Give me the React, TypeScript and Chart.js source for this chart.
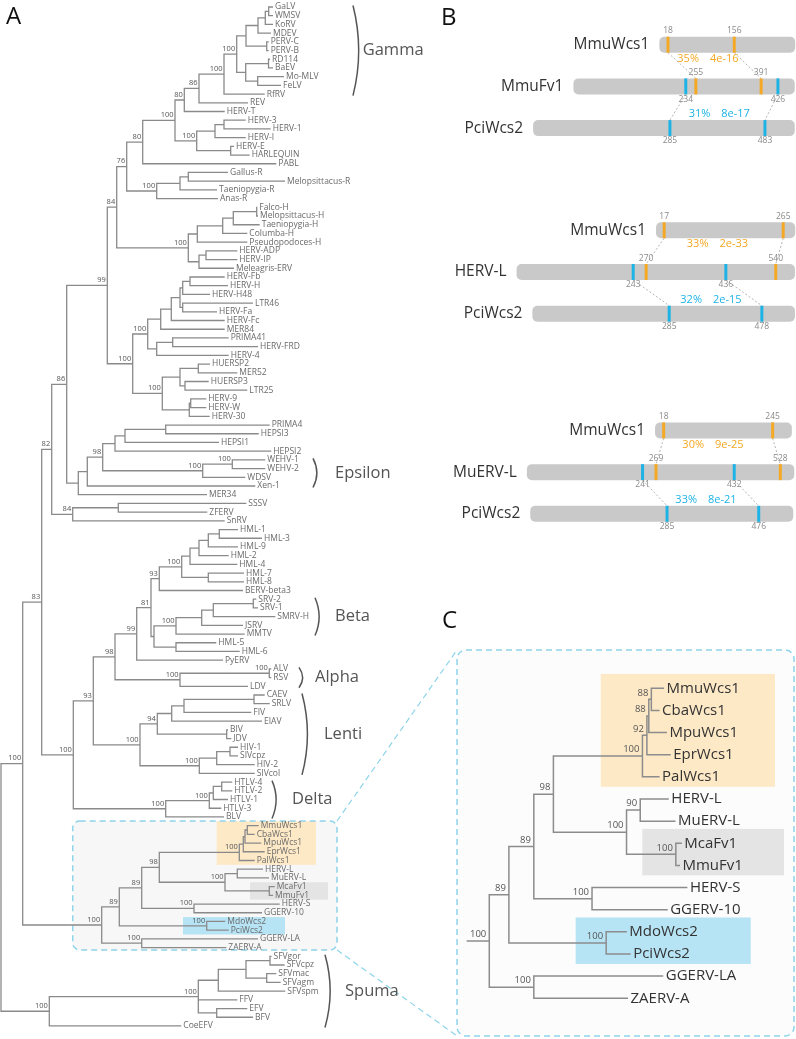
import { useEffect, useRef } from "react";
import { Chart, registerables } from "chart.js";

Chart.register(...registerables);

// ======================= DATA =======================
// Tree clades in Newick form. The number after ':' is the node's distance from the root
// (figure units), the number before ':' is the bootstrap support;
// '*' marks supports that are printed only in the enlarged panel C.
const MLV_GROUP = "((((GaLV:272,WMSV:272):267.7,KoRV:272):264.3,MDEV:270):257,(PERV-C:267.7,PERV-B:267.7):265.7):245";
const RD114_GROUP = "((RD114:269,BaEV:272):267.5,(Mo-MLV:283,FeLV:280):256.7):244.7";
const HERV3_GROUP = "(((HERV-3:244.7,HERV-1:269.7):223,HERV-I:244.7):214,(HERV-E:233,HARLEQUIN:248.7):229.7)100:195.7";
const AVIAN_R = "(((Gallus-R:227,Melopsittacus-R:284):187.3,Taeniopygia-R:216):179,Anas-R:217)100:155.7";
const AVIAN_H = "(((((Falco-H:256.3,Melopsittacus-H:257):255.7,Taeniopygia-H:258.7):232.3,Columba-H:246.3):221.7,Pseudopodoces-H:246.3):196.3,((HERV-ADP:236.3,HERV-IP:236.3):205,Meleagris-ERV:233):198)100:187.3";
const HERVH_GROUP = "((((((HERV-Fb:223.7,HERV-H:227):189,HERV-H48:209):181.7,(LTR46:252,HERV-Fa:216):181.7):179,HERV-Fc:223.7):170.3,MER84:223.7):159.7,((PRIMA41:227.7,HERV-FRD:257):171.7,HERV-4:227.7):155.7)100:146.7";
const HUERSP_GROUP = "(((HUERSP2:209,MER52:236.3):197.3,(HUERSP3:207.7,LTR25:246.3):184):179,((HERV-9:205.3,HERV-W:205.3):189.7,HERV-30:208.7):188.3)100:161.3";
const EPSILON_GROUP = "((((((PRIMA4:268.7,HEPSI3:257.7):164.7,HEPSI1:218):124,HEPSI2:270.3):114,((WEHV-1:264.3,WEHV-2:264.3)100:231.3,WDSV:244.3)100:201.7)98:101.7,Xen-1:254.3):86.3,MER34:206):77.3";
const SSSV_GROUP = "((SSSV:245.3,ZFERV:206.3):117.3,SnRV:223.7)84:71.7";
const HML_GROUP = "(((((HML-1:237,HML-3:261):218.3,HML-9:237):207.3,HML-2:227.7):198,HML-4:236.3):189,(HML-7:243,HML-8:243):207.3)100:180.7";
const BETA_GROUP = "((((SRV-2:255.3,SRV-1:257):252.3,SMRV-H:274.3):212.3,JSRV:242):200.7,MMTV:243.7)100:175";
const ALPHA_GROUP = "((ALV:270.3,RSV:270.3)100:268.3,LDV:247)100:179";
const LENTI_GROUP = "((((CAEV:263.7,SRLV:268.7):253,FIV:250.3):183,EIAV:261):170.7,(BIV:227,JDV:230.3):225.7)94:156.3";
const HIV_GROUP = "(((HIV-1:237,SIVcpz:237):229,HIV-2:253.7):215.7,SIVcol:253.7)100:198.3";
const DELTA_GROUP = "((((HTLV-4:231.3,HTLV-2:231.3):220.7,HTLV-1:227):212.3,HTLV-3:220.3)100:208.3,BLV:223)100:164.7";
const WCS_GROUP = "((((((((MmuWcs1:257.7,CbaWcs1:253.7)88*:246.3,MpuWcs1:260.3)88*:244,EprWcs1:263.7)92*:242.3,PalWcs1:253.7)100:238.3,((HERV-L:262,MuERV-L:268)90*:236.3,(McaFv1:273.7,MmuFv1:272)100*:268.3)100:224)98:158.3,(HERV-S:278.7,GGERV-10:261)100:193)89:140.7,(MdoWcs2:224.3,PciWcs2:227.7)100:205.7)89:118.3,(GGERV-LA:257,ZAERV-A:225.3)100:140.7)100:100.7";
const SPUMA_GROUP = "(((((SFVgor:270.5,SFVcpz:283.7):269,(SFVmac:275.3,SFVagm:279.7):265.7):245,SFVspm:284.3):217.3,FFV:236.3,(EFV:246.3,BFV:252):215.7)100:197.3,CoeEFV:180.3)100:48.3";

const GAMMA_GROUP = `((((((${MLV_GROUP},${RD114_GROUP})100:235.7,RfRV:263.7)100:223,REV:247)86:198,HERV-T:223.7)80:183.3,${HERV3_GROUP})100:174,PABL:275.3)80:141.7`;
const CLADE_84 = `((${GAMMA_GROUP},${AVIAN_R})76:125.7,${AVIAN_H})84:115.7`;
const CLADE_99 = `(${CLADE_84},(${HERVH_GROUP},${HUERSP_GROUP})100:131.7)99:106.3`;
const CLADE_82 = `((${CLADE_99},${EPSILON_GROUP})86:65.7,${SSSV_GROUP})82:50.7`;
const CLADE_81 = `((${HML_GROUP},BERV-beta3:242)93:158.3,(${BETA_GROUP},(HML-5:215.3,HML-6:238.7):175):153)81:150`;
const CLADE_93 = `(((${CLADE_81},PyERV:222)99:135.7,${ALPHA_GROUP})98:114,(${LENTI_GROUP},${HIV_GROUP})100:139)93:92.3`;
const CLADE_83 = `(${CLADE_82},(${CLADE_93},${DELTA_GROUP})100:72.3)83:40.7`;
const TREE_A = `((${CLADE_83},${WCS_GROUP})100:21.7,${SPUMA_GROUP}):0;`;

// Bracketed genera of panel A
const GENUS_NAMES = ["Gamma", "Epsilon", "Beta", "Alpha", "Lenti", "Delta", "Spuma"];
const GENUS_FIRST = ["GaLV", "WEHV-1", "SRV-2", "ALV", "CAEV", "HTLV-4", "SFVgor"];
const GENUS_LAST = ["RfRV", "Xen-1", "MMTV", "LDV", "SIVcol", "BLV", "CoeEFV"];

// Highlighted clades
const HL_FIRST = ["MmuWcs1", "McaFv1", "MdoWcs2"];
const HL_LAST = ["PalWcs1", "MmuFv1", "PciWcs2"];

// Enlarged sub-tree (panel C)
const ZOOM_FIRST = "MmuWcs1";
const ZOOM_LAST = "ZAERV-A";

// Panel B: protein bars (aa lengths) and conserved sites
const B_PROTEINS = ["MmuWcs1", "MmuFv1", "PciWcs2", "MmuWcs1", "HERV-L", "PciWcs2", "MmuWcs1", "MuERV-L", "PciWcs2"];
const B_LENGTHS = [283, 461, 545, 290, 580, 547, 285, 557, 548];
const B_ORANGE_SITES = [[18, 156], [255, 391], [], [17, 265], [270, 540], [], [18, 245], [269, 528], []];
const B_BLUE_SITES = [[], [234, 426], [285, 483], [], [243, 436], [285, 478], [], [241, 432], [285, 476]];
const B_ORANGE_IDENTITY = ["35%", "33%", "30%"];
const B_ORANGE_EVALUE = ["4e-16", "2e-33", "9e-25"];
const B_BLUE_IDENTITY = ["31%", "32%", "33%"];
const B_BLUE_EVALUE = ["8e-17", "2e-15", "8e-21"];

// ======================= LAYOUT / STYLE =======================
const W = 796;
const H = 1039;
const FONT = '"Open Sans", sans-serif';
const ORANGE = "#f5a823";
const BLUE = "#1db3e6";
const HL_COLORS = ["#fde9c6", "#e4e4e4", "#b7e4f5"];
const BOX_BLUE = "#8ed4ea";

// scale anchors: pixel px0 at value v0, ppu pixels per unit
const A_X = { px0: 1, v0: 0, ppu: 1 };
const A_Y = { px0: 7, v0: 0, ppu: 8.709 };
const C_X = { px0: 489.3, v0: 100.7, ppu: 1.113 };
const C_Y = { px0: 688.3, v0: 0, ppu: 22.14 };
const B_X = { px0: 500, v0: 0, ppu: 0.48 };
const B_Y = { px0: 44.7, v0: 0, ppu: 41.7 };

const GENUS_BRACKET_X = [352, 312, 314, 298, 301, 271, 324];
const GENUS_LABEL_X = [361.7, 334, 334, 314, 323, 291, 344];
const HL_A_X = [[215.7, 315], [249, 327], [182, 284]];
const HL_C_X = [[200.8, 357.4], [238.2, 365.5], [178.3, 335.6]];
const A_BOX_X = [71.7, 336];
const A_BOX_PAD = [0.53, 0.28];
const C_BOX_X = [71.7, 374.5];
const C_BOX_Y = [-1.73, 15.7];
const C_ROOT_STUB = 20.3;

const B_SHIFT = [332, 153, 69, 325, 34.5, 67.5, 323, 56, 63];
const B_GROUP_Y = [0, 4.45, 9.25];
const B_STAT_X = [[426, 449.6], [445.8, 432.3], [436.5, 421.9]];
const B_HALF = 8 / 41.7; // half bar thickness in row units
const B_MARK_HALF = 3.1;

// ======================= TREE HELPERS =======================
type TNode = { name: string; support: string; depth: number; children: TNode[]; y: number };

function parseNewick(s: string): TNode {
  let i = 0;
  const read = (): TNode => {
    const n: TNode = { name: "", support: "", depth: 0, children: [], y: 0 };
    if (s[i] === "(") {
      i++;
      n.children.push(read());
      while (s[i] === ",") {
        i++;
        n.children.push(read());
      }
      i++;
    }
    let lab = "";
    while (i < s.length && !":,);".includes(s[i])) lab += s[i++];
    if (s[i] === ":") {
      i++;
      let num = "";
      while (i < s.length && !",);".includes(s[i])) num += s[i++];
      n.depth = parseFloat(num);
    }
    if (n.children.length) n.support = lab;
    else n.name = lab;
    return n;
  };
  return read();
}

function assignRows(n: TNode, counter = { v: 0 }) {
  if (!n.children.length) {
    n.y = counter.v++;
    return;
  }
  n.children.forEach((c) => assignRows(c, counter));
  n.y = (n.children[0].y + n.children[n.children.length - 1].y) / 2;
}

function allNodes(n: TNode): TNode[] {
  return [n, ...n.children.flatMap(allNodes)];
}
function leafNames(n: TNode): string[] {
  return allNodes(n).filter((x) => !x.children.length).map((x) => x.name);
}
function findClade(n: TNode, a: string, b: string): TNode | null {
  for (const c of n.children) {
    const r = findClade(c, a, b);
    if (r) return r;
  }
  const ls = leafNames(n);
  return ls.includes(a) && ls.includes(b) ? n : null;
}

type Pt = { x: number | null; y: number | null };
function treeSegments(n: TNode, out: Pt[]) {
  if (!n.children.length) return;
  const f = n.children[0];
  const l = n.children[n.children.length - 1];
  out.push({ x: f.depth, y: f.y }, { x: n.depth, y: f.y }, { x: n.depth, y: l.y }, { x: l.depth, y: l.y }, { x: null, y: null });
  for (let k = 1; k < n.children.length - 1; k++) {
    const c = n.children[k];
    out.push({ x: n.depth, y: c.y }, { x: c.depth, y: c.y }, { x: null, y: null });
  }
  n.children.forEach((c) => treeSegments(c, out));
}

function scaleRange(m: { px0: number; v0: number; ppu: number }, size: number) {
  return { min: m.v0 - m.px0 / m.ppu, max: m.v0 + (size - m.px0) / m.ppu };
}

function axisCfg(axis: string, m: { px0: number; v0: number; ppu: number }, size: number, reverse: boolean) {
  return {
    type: "linear",
    axis,
    display: false,
    offset: false,
    bounds: "data",
    grace: 0,
    reverse,
    ...scaleRange(m, size),
    grid: { display: false, offset: false },
    ticks: { display: false },
  };
}

function bRow(r: number) {
  return B_GROUP_Y[Math.floor(r / 3)] + (r % 3);
}

// ======================= CHART =======================
function buildConfig() {
  const treeA = parseNewick(TREE_A);
  assignRows(treeA);
  const treeC = findClade(parseNewick(TREE_A), ZOOM_FIRST, ZOOM_LAST) as TNode;
  assignRows(treeC);

  const nodesA = allNodes(treeA);
  const nodesC = allNodes(treeC);
  const rowA = new Map(nodesA.filter((n) => !n.children.length).map((n) => [n.name, n.y]));
  const rowC = new Map(nodesC.filter((n) => !n.children.length).map((n) => [n.name, n.y]));

  const segA: Pt[] = [];
  treeSegments(treeA, segA);
  const segC: Pt[] = [{ x: treeC.depth - C_ROOT_STUB, y: treeC.y }, { x: treeC.depth, y: treeC.y }, { x: null, y: null }];
  treeSegments(treeC, segC);

  // Panel B datasets
  const bars = B_PROTEINS.map((_, r) => ({ x: [B_SHIFT[r], B_SHIFT[r] + B_LENGTHS[r]], y: bRow(r) }));
  const orangeMarks: any[] = [];
  const blueMarks: any[] = [];
  B_PROTEINS.forEach((_, r) => {
    B_ORANGE_SITES[r].forEach((p) => orangeMarks.push({ x: [B_SHIFT[r] + p - B_MARK_HALF, B_SHIFT[r] + p + B_MARK_HALF], y: bRow(r) }));
    B_BLUE_SITES[r].forEach((p) => blueMarks.push({ x: [B_SHIFT[r] + p - B_MARK_HALF, B_SHIFT[r] + p + B_MARK_HALF], y: bRow(r) }));
  });
  const links: Pt[] = [];
  for (let g = 0; g < 3; g++) {
    const r0 = g * 3;
    B_ORANGE_SITES[r0].forEach((p, k) => {
      const q = B_ORANGE_SITES[r0 + 1][k];
      links.push({ x: B_SHIFT[r0] + p, y: bRow(r0) + B_HALF }, { x: B_SHIFT[r0 + 1] + q, y: bRow(r0 + 1) - B_HALF }, { x: null, y: null });
    });
    B_BLUE_SITES[r0 + 1].forEach((p, k) => {
      const q = B_BLUE_SITES[r0 + 2][k];
      links.push({ x: B_SHIFT[r0 + 1] + p, y: bRow(r0 + 1) + B_HALF }, { x: B_SHIFT[r0 + 2] + q, y: bRow(r0 + 2) - B_HALF }, { x: null, y: null });
    });
  }

  const plugin = {
    id: "figureDecor",
    beforeDatasetsDraw(chart: any) {
      const ctx = chart.ctx as CanvasRenderingContext2D;
      const s = chart.scales;
      const P = (id: string, v: number) => s[id].getPixelForValue(v);
      ctx.save();
      // zoom boxes
      const ax1 = P("xA", A_BOX_X[0]);
      const ax2 = P("xA", A_BOX_X[1]);
      const ay1 = P("yA", (rowA.get(ZOOM_FIRST) as number) - A_BOX_PAD[0]);
      const ay2 = P("yA", (rowA.get(ZOOM_LAST) as number) + A_BOX_PAD[1]);
      const cx1 = P("xC", C_BOX_X[0]);
      const cx2 = P("xC", C_BOX_X[1]);
      const cy1 = P("yC", C_BOX_Y[0]);
      const cy2 = P("yC", C_BOX_Y[1]);
      ctx.fillStyle = "#f7f7f7";
      ctx.beginPath();
      ctx.roundRect(ax1, ay1, ax2 - ax1, ay2 - ay1, 7);
      ctx.fill();
      ctx.fillStyle = "#fcfcfc";
      ctx.beginPath();
      ctx.roundRect(cx1, cy1, cx2 - cx1, cy2 - cy1, 9);
      ctx.fill();
      // highlights
      HL_FIRST.forEach((f, k) => {
        ctx.fillStyle = HL_COLORS[k];
        const y1 = P("yA", (rowA.get(f) as number) - 0.5);
        const y2 = P("yA", (rowA.get(HL_LAST[k]) as number) + 0.5);
        const x1 = P("xA", HL_A_X[k][0]);
        const x2 = P("xA", HL_A_X[k][1]);
        ctx.fillRect(x1, y1, x2 - x1, y2 - y1);
        const v1 = P("yC", (rowC.get(f) as number) - 0.65);
        const v2 = P("yC", (rowC.get(HL_LAST[k]) as number) + 0.45);
        const u1 = P("xC", HL_C_X[k][0]);
        const u2 = P("xC", HL_C_X[k][1]);
        ctx.fillRect(u1, v1, u2 - u1, v2 - v1);
      });
      ctx.strokeStyle = BOX_BLUE;
      ctx.lineWidth = 1.5;
      ctx.setLineDash([6, 4]);
      ctx.beginPath();
      ctx.roundRect(ax1, ay1, ax2 - ax1, ay2 - ay1, 7);
      ctx.stroke();
      ctx.beginPath();
      ctx.roundRect(cx1, cy1, cx2 - cx1, cy2 - cy1, 9);
      ctx.stroke();
      ctx.lineWidth = 1.2;
      ctx.beginPath();
      ctx.moveTo(ax2, ay1);
      ctx.lineTo(cx1, cy1);
      ctx.moveTo(ax2, ay2);
      ctx.lineTo(cx1, cy2);
      ctx.stroke();
      ctx.restore();
    },
    afterDatasetsDraw(chart: any) {
      const ctx = chart.ctx as CanvasRenderingContext2D;
      const s = chart.scales;
      const P = (id: string, v: number) => s[id].getPixelForValue(v);
      ctx.save();
      ctx.textBaseline = "middle";
      // ---- Panel A labels
      ctx.font = `8.5px ${FONT}`;
      ctx.fillStyle = "#6a6a6a";
      ctx.textAlign = "left";
      nodesA.filter((n) => !n.children.length).forEach((n) => ctx.fillText(n.name, P("xA", n.depth) + 2, P("yA", n.y)));
      ctx.font = `7.5px ${FONT}`;
      ctx.fillStyle = "#555";
      ctx.textAlign = "right";
      nodesA.filter((n) => n.children.length && n.support && !n.support.endsWith("*")).forEach((n) =>
        ctx.fillText(n.support, P("xA", n.depth) - 1.5, P("yA", n.y) - 5.2)
      );
      // genus brackets
      ctx.strokeStyle = "#555";
      ctx.lineWidth = 1.5;
      ctx.textAlign = "left";
      ctx.font = `16.5px ${FONT}`;
      GENUS_NAMES.forEach((g, k) => {
        const y1 = P("yA", rowA.get(GENUS_FIRST[k]) as number) - 1.5;
        const y2 = P("yA", rowA.get(GENUS_LAST[k]) as number) + 1.5;
        const bx = P("xA", GENUS_BRACKET_X[k]);
        const bulge = 3 + (y2 - y1) * 0.03;
        ctx.beginPath();
        ctx.moveTo(bx, y1);
        ctx.quadraticCurveTo(bx + 2 * bulge, (y1 + y2) / 2, bx, y2);
        ctx.stroke();
        ctx.fillText(g, P("xA", GENUS_LABEL_X[k]), (y1 + y2) / 2);
      });
      // ---- Panel C labels
      ctx.font = `15px ${FONT}`;
      ctx.fillStyle = "#333";
      ctx.textAlign = "left";
      nodesC.filter((n) => !n.children.length).forEach((n) => ctx.fillText(n.name, P("xC", n.depth) + 2.5, P("yC", n.y)));
      ctx.font = `9.5px ${FONT}`;
      ctx.fillStyle = "#555";
      ctx.textAlign = "right";
      nodesC.filter((n) => n.children.length && n.support).forEach((n) =>
        ctx.fillText(n.support.replace("*", ""), P("xC", n.depth) - 3, P("yC", n.y) - 6.5)
      );
      // ---- Panel B labels
      B_PROTEINS.forEach((name, r) => {
        const y = P("yB", bRow(r));
        ctx.font = `15.5px ${FONT}`;
        ctx.fillStyle = "#333";
        ctx.textAlign = "right";
        ctx.fillText(name, P("xB", B_SHIFT[r]) - 10, y);
        ctx.font = `8.5px ${FONT}`;
        ctx.fillStyle = "#8a8a8a";
        ctx.textAlign = "center";
        B_ORANGE_SITES[r].forEach((p) => ctx.fillText(String(p), P("xB", B_SHIFT[r] + p), P("yB", bRow(r) - 0.33)));
        B_BLUE_SITES[r].forEach((p) => ctx.fillText(String(p), P("xB", B_SHIFT[r] + p), P("yB", bRow(r) + 0.31)));
      });
      ctx.font = `11px ${FONT}`;
      for (let g = 0; g < 3; g++) {
        const r0 = g * 3;
        const yo = P("yB", bRow(r0) + 0.335);
        const yb = P("yB", bRow(r0 + 2) - 0.335);
        const xo = P("xB", B_STAT_X[g][0]);
        const xb = P("xB", B_STAT_X[g][1]);
        ctx.fillStyle = ORANGE;
        ctx.textAlign = "right";
        ctx.fillText(B_ORANGE_IDENTITY[g], xo - 5.5, yo);
        ctx.textAlign = "left";
        ctx.fillText(B_ORANGE_EVALUE[g], xo + 5.5, yo);
        ctx.fillStyle = BLUE;
        ctx.textAlign = "right";
        ctx.fillText(B_BLUE_IDENTITY[g], xb - 5.5, yb);
        ctx.textAlign = "left";
        ctx.fillText(B_BLUE_EVALUE[g], xb + 5.5, yb);
      }
      // ---- panel letters
      ctx.fillStyle = "#111";
      ctx.textAlign = "left";
      ctx.textBaseline = "alphabetic";
      ctx.font = `24px ${FONT}`;
      ctx.fillText("A", 6, 24);
      ctx.fillText("B", 441, 25);
      ctx.fillText("C", 442, 628);
      ctx.restore();
    },
  };

  const lineDs = (data: Pt[], xid: string, yid: string, color: string, width: number, dash: number[] = []) => ({
    type: "scatter",
    data,
    xAxisID: xid,
    yAxisID: yid,
    showLine: true,
    spanGaps: false,
    borderColor: color,
    borderWidth: width,
    borderDash: dash,
    pointRadius: 0,
    pointHoverRadius: 0,
    fill: false,
    tension: 0,
    order: 1,
  });
  const barDs = (data: any[], color: string, radius: number, order: number) => ({
    type: "bar",
    data,
    indexAxis: "y",
    xAxisID: "xB",
    yAxisID: "yB",
    grouped: false,
    maxBarThickness: 16,
    backgroundColor: color,
    borderWidth: 0,
    borderRadius: radius,
    borderSkipped: false,
    order,
  });

  return {
    type: "scatter",
    data: {
      datasets: [
        barDs(orangeMarks, ORANGE, 0, 0),
        barDs(blueMarks, BLUE, 0, 0),
        lineDs(links, "xB", "yB", "#b4b4b4", 1, [2, 2]),
        barDs(bars, "#c9c9c9", 5, 3),
        lineDs(segA, "xA", "yA", "#8a8a8a", 1.3),
        lineDs(segC, "xC", "yC", "#8c8c8c", 1.5),
      ],
    },
    options: {
      responsive: false,
      maintainAspectRatio: false,
      animation: false,
      devicePixelRatio: 1,
      events: [],
      layout: { padding: 0 },
      plugins: { legend: { display: false }, tooltip: { enabled: false } },
      scales: {
        xA: axisCfg("x", A_X, W, false),
        yA: axisCfg("y", A_Y, H, true),
        xC: axisCfg("x", C_X, W, false),
        yC: axisCfg("y", C_Y, H, true),
        xB: axisCfg("x", B_X, W, false),
        yB: axisCfg("y", B_Y, H, true),
      },
    },
    plugins: [plugin],
  };
}

export default function App() {
  const ref = useRef<HTMLCanvasElement>(null);
  useEffect(() => {
    const chart = new Chart(ref.current as HTMLCanvasElement, buildConfig() as any);
    return () => chart.destroy();
  }, []);
  return (
    <div style={{ position: "absolute", left: 0, top: 0, width: W, height: H, background: "#fff" }}>
      <canvas ref={ref} width={W} height={H} style={{ width: W, height: H, display: "block" }} />
    </div>
  );
}
